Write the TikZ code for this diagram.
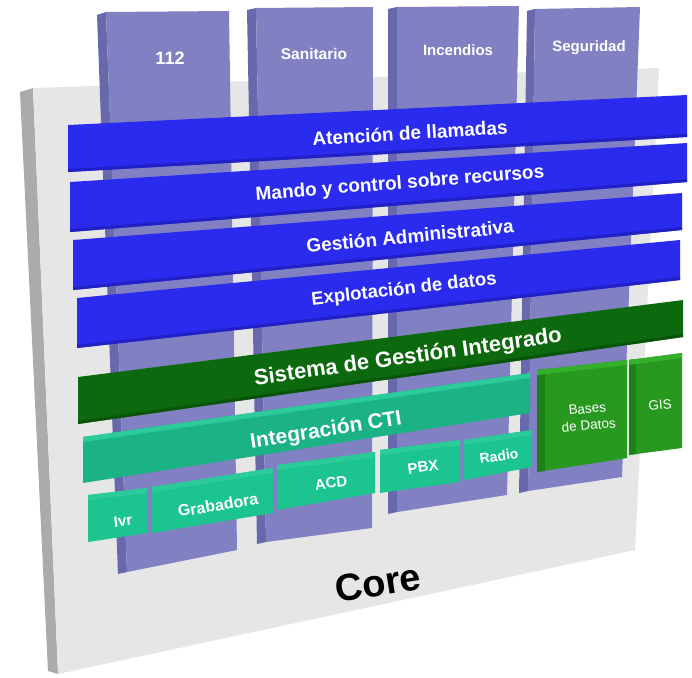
\documentclass[tikz,border=0pt]{standalone}
\usepackage{fontspec}
\setmainfont{Liberation Sans}
\definecolor{grayface}{HTML}{E6E6E6}
\definecolor{grayside}{HTML}{ABABAB}
\definecolor{colface}{HTML}{8080C2}
\definecolor{colside}{HTML}{6868AC}
\definecolor{barblue}{HTML}{2B2BF0}
\definecolor{barbluedark}{HTML}{2020C4}
\definecolor{sgreen}{HTML}{0D690D}
\definecolor{sgreendark}{HTML}{0A540A}
\definecolor{teal}{HTML}{1BB385}
\definecolor{tealtop}{HTML}{2CCB9B}
\definecolor{tealbox}{HTML}{1CC490}
\definecolor{dgreen}{HTML}{27991F}
\definecolor{dgreenside}{HTML}{1E7F18}
\definecolor{dgreentop}{HTML}{34B02A}
\tikzset{
  lbl/.style={text=white, inner sep=0pt, font=\bfseries},
  thinlbl/.style={text=white, inner sep=0pt, align=center},
}
\newcommand{\fsz}[1]{\fontsize{#1}{#1}\selectfont}
\begin{document}
\begin{tikzpicture}[x=1pt,y=-1pt]
\useasboundingbox[fill=white] (0,0) rectangle (692,677);
% core panel
\fill[grayside] (20,92) -- (33,88) -- (58,674) -- (48,671) -- cycle;
\fill[grayface] (33,88) -- (659,68) -- (635,550) -- (58,674) -- cycle;
% columns
\fill[colside] (97,15) -- (106,12) -- (127,572) -- (118,574) -- cycle;
\fill[colface] (106,12) -- (229,11) -- (237,550) -- (127,572) -- cycle;
\fill[colside] (247,10) -- (256,8) -- (266,542) -- (257,544) -- cycle;
\fill[colface] (256,8) -- (373,7) -- (372,528) -- (266,542) -- cycle;
\fill[colside] (388,9) -- (397,7) -- (397,512) -- (388,514) -- cycle;
\fill[colface] (397,7) -- (519,6) -- (507,495) -- (397,512) -- cycle;
\fill[colside] (527,11) -- (535,9) -- (528,491) -- (519,493) -- cycle;
\fill[colface] (535,9) -- (640,7) -- (622,477) -- (528,491) -- cycle;
\node[lbl, font=\bfseries\fsz{18}] (c1) at (170,58) {112};
\node[lbl, font=\bfseries\fsz{15.5}] (c2) at (314,54) {Sanitario};
\node[lbl, font=\bfseries\fsz{15}] (c3) at (458,50) {Incendios};
\node[lbl, font=\bfseries\fsz{15}] (c4) at (589,48) {Seguridad};
% blue bars
\fill[barblue] (68,125) -- (687,95) -- (687,137) -- (68,172) -- cycle;
\fill[barbluedark] (68,169) -- (687,134) -- (687,137) -- (68,172) -- cycle;
\fill[barblue] (70,182) -- (687,143) -- (687,182) -- (70,232) -- cycle;
\fill[barbluedark] (70,229) -- (687,179) -- (687,182) -- (70,232) -- cycle;
\fill[barblue] (73,240) -- (682,193) -- (682,230) -- (73,290) -- cycle;
\fill[barbluedark] (73,287) -- (682,227) -- (682,230) -- (73,290) -- cycle;
\fill[barblue] (77,298) -- (680,240) -- (680,280) -- (77,348) -- cycle;
\fill[barbluedark] (77,345) -- (680,277) -- (680,280) -- (77,348) -- cycle;
\node[lbl, font=\bfseries\fsz{19}, rotate=3.5] (b1) at (410,133) {Atención de llamadas};
\node[lbl, font=\bfseries\fsz{19}, rotate=4.5] (b2) at (400,184) {Mando y control sobre recursos};
\node[lbl, font=\bfseries\fsz{19}, rotate=5.5] (b3) at (410,236) {Gestión Administrativa};
\node[lbl, font=\bfseries\fsz{18.5}, rotate=6.5] (b4) at (404,290) {Explotación de datos};
% sistema de gestion
\fill[sgreen] (78,377) -- (683,300) -- (683,337) -- (78,424) -- cycle;
\fill[sgreendark] (78,421) -- (683,334) -- (683,337) -- (78,424) -- cycle;
\node[lbl, font=\bfseries\fsz{22}, rotate=8] (sg) at (408,358) {Sistema de Gestión Integrado};
% integracion CTI
\fill[teal] (83,437) -- (530,373) -- (530,413) -- (83,483) -- cycle;
\fill[tealtop] (83,437) -- (530,373) -- (530,378) -- (83,442) -- cycle;
\node[lbl, font=\bfseries\fsz{21}, rotate=9] (cti) at (326,431) {Integración CTI};
% small boxes
\fill[tealbox] (88,495) -- (147,488) -- (147,533) -- (88,542) -- cycle;
\fill[tealtop] (88,495) -- (147,488) -- (147,493) -- (88,500) -- cycle;
\fill[tealbox] (152,487) -- (273,468) -- (273,513) -- (152,533) -- cycle;
\fill[tealtop] (152,487) -- (273,468) -- (273,473) -- (152,492) -- cycle;
\fill[tealbox] (277,465) -- (375,452) -- (375,493) -- (277,510) -- cycle;
\fill[tealtop] (277,465) -- (375,452) -- (375,457) -- (277,470) -- cycle;
\fill[tealbox] (380,450) -- (460,440) -- (460,482) -- (380,493) -- cycle;
\fill[tealtop] (380,450) -- (460,440) -- (460,445) -- (380,455) -- cycle;
\fill[tealbox] (464,440) -- (532,430) -- (532,467) -- (464,480) -- cycle;
\fill[tealtop] (464,440) -- (532,430) -- (532,435) -- (464,445) -- cycle;
\node[lbl, font=\bfseries\fsz{15}, rotate=6] (ivr) at (123,521) {Ivr};
\node[lbl, font=\bfseries\fsz{16}, rotate=9] (gra) at (218,505) {Grabadora};
\node[lbl, font=\bfseries\fsz{15}, rotate=8] (acd) at (331,483) {ACD};
\node[lbl, font=\bfseries\fsz{15}, rotate=8] (pbx) at (423,467) {PBX};
\node[lbl, font=\bfseries\fsz{14}, rotate=8] (rad) at (499,456) {Radio};
% bases de datos and GIS
\fill[dgreen] (537,370) -- (627,360) -- (627,458) -- (537,472) -- cycle;
\fill[dgreenside] (537,370) -- (545,369) -- (545,471) -- (537,472) -- cycle;
\fill[dgreentop] (537,370) -- (627,360) -- (627,365) -- (537,375) -- cycle;
\fill[dgreen] (629,360) -- (682,353) -- (682,448) -- (629,455) -- cycle;
\fill[dgreenside] (629,360) -- (636,359) -- (636,454) -- (629,455) -- cycle;
\fill[dgreentop] (629,360) -- (682,353) -- (682,358) -- (629,365) -- cycle;
\node[thinlbl, font=\fsz{13.5}, rotate=5] (bd) at (588,417) {Bases\\[3pt]de Datos};
\node[thinlbl, font=\fsz{13.5}, rotate=5] (gis) at (660,405) {GIS};
% core label
\node[inner sep=0pt, font=\bfseries\fsz{38}, rotate=9] (core) at (378,583) {Core};
\end{tikzpicture}
\end{document}
